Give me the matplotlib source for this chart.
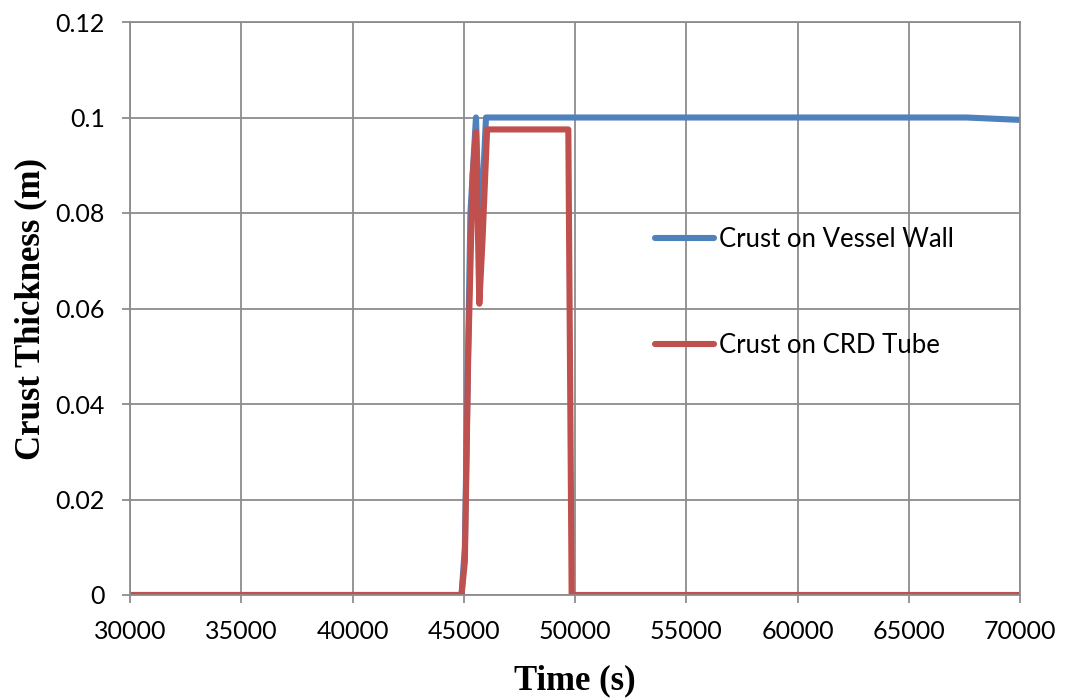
import matplotlib
matplotlib.use('Agg')
import matplotlib.pyplot as plt

# time (s) and crust thickness (m)
t_wall = [30000, 44900, 45050, 45300, 45550, 45700, 45850, 46000, 67600, 70000]
wall = [0.0, 0.0, 0.01, 0.08, 0.1, 0.075, 0.085, 0.1, 0.1, 0.0995]

t_crd = [30000, 44900, 45050, 45200, 45400, 45550, 45700, 45850, 46050, 49700, 49850, 70000]
crd = [0.0, 0.0, 0.007, 0.05, 0.088, 0.097, 0.061, 0.075, 0.0975, 0.0975, 0.0, 0.0]

blue = '#4F81BD'
red = '#C0504D'
grid_c = '#8C8C8C'

fig = plt.figure(figsize=(10.66, 7), dpi=100)
ax = fig.add_axes([130 / 1066, 105 / 700, 890 / 1066, 573 / 700])

ax.plot(t_wall, wall, color=blue, lw=4.4, label='Crust on Vessel Wall', solid_capstyle='round')
ax.plot(t_crd, crd, color=red, lw=4.4, label='Crust on CRD Tube', solid_capstyle='round')

ax.set_xlim(30000, 70000)
ax.set_ylim(0, 0.12)
ax.set_xticks(range(30000, 70001, 5000))
ax.set_yticks([0, 0.02, 0.04, 0.06, 0.08, 0.1, 0.12])
ax.set_yticklabels(['0', '0.02', '0.04', '0.06', '0.08', '0.1', '0.12'])

ax.grid(True, color=grid_c, lw=1.3)
ax.set_axisbelow(True)
for s in ax.spines.values():
    s.set_color(grid_c)
    s.set_linewidth(1.3)
ax.tick_params(colors=grid_c, width=1.3, length=6, labelcolor='black', labelsize=18)
ax.tick_params(axis='y', pad=12)
ax.tick_params(axis='x', pad=12)
for lab in ax.get_xticklabels() + ax.get_yticklabels():
    lab.set_family(['Lato', 'DejaVu Sans'])

ax.set_xlabel('Time (s)', family='Liberation Serif', fontweight='bold', fontsize=25, labelpad=15)
ax.set_ylabel('Crust Thickness (m)', family='Liberation Serif', fontweight='bold', fontsize=25, labelpad=6)

ax.legend(loc='center left', bbox_to_anchor=(0.59, 0.528), frameon=False, labelspacing=3.15,
          borderpad=0, borderaxespad=0, handlelength=2.3, handletextpad=0.2,
          prop={'family': 'Lato', 'size': 18.5})

fig.savefig('out.png', dpi=100)
